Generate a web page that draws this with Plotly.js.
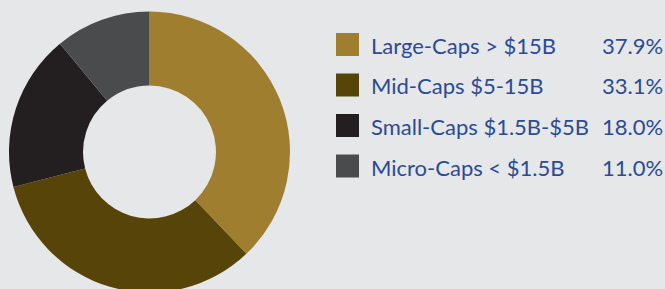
<!DOCTYPE html>
<html>
<head>
<meta charset="utf-8">
<script src="https://cdn.plot.ly/plotly-3.0.1.min.js"></script>
<style>
html,body{margin:0;padding:0;background:#e6e7e9;overflow:hidden;}
#chart{width:665px;height:300px;}
</style>
</head>
<body>
<div id="chart"></div>
<script>
const categories = ["Large-Caps > $15B", "Mid-Caps $5-15B", "Small-Caps $1.5B-$5B", "Micro-Caps < $1.5B"];
const values = [37.9, 33.1, 18.0, 11.0];
const colors = ["#a07e2f", "#574409", "#231f20", "#4a4b4d"];

const W = 665, H = 300;
const textColor = "#2b4b94";
const font = "Lato, 'Open Sans', sans-serif";

const pie = {
  type: "pie",
  labels: categories,
  values: values,
  marker: {colors: colors, line: {width: 0}},
  hole: 0.473,
  sort: false,
  direction: "clockwise",
  rotation: 0,
  textinfo: "none",
  hoverinfo: "label+percent",
  showlegend: false,
  domain: {x: [9 / W, 290 / W], y: [1 - 292.5 / H, 1 - 11.5 / H]}
};

const shapes = [];
const annotations = [];
const rowTop = 33, rowStep = 40.5, sq = 23;
categories.forEach((c, i) => {
  const top = rowTop + i * rowStep;
  shapes.push({
    type: "rect", xref: "paper", yref: "paper",
    x0: 336 / W, x1: (336 + sq) / W,
    y0: 1 - (top + sq) / H, y1: 1 - top / H,
    fillcolor: colors[i], line: {width: 0}
  });
  const yc = 1 - (top + sq / 2 + 1) / H;
  annotations.push({
    xref: "paper", yref: "paper", x: 369 / W, y: yc,
    xanchor: "left", yanchor: "middle", showarrow: false,
    text: c, font: {family: font, size: 22, color: textColor}
  });
  annotations.push({
    xref: "paper", yref: "paper", x: 665 / W, y: yc,
    xanchor: "right", yanchor: "middle", showarrow: false,
    text: values[i].toFixed(1) + "%", font: {family: font, size: 22, color: textColor}
  });
});

const layout = {
  width: W, height: H,
  margin: {l: 0, r: 0, t: 0, b: 0, pad: 0},
  paper_bgcolor: "#e6e7e9",
  plot_bgcolor: "#e6e7e9",
  shapes: shapes,
  annotations: annotations,
  showlegend: false
};

Plotly.newPlot("chart", [pie], layout, {displayModeBar: false, staticPlot: true});
</script>
</body>
</html>
